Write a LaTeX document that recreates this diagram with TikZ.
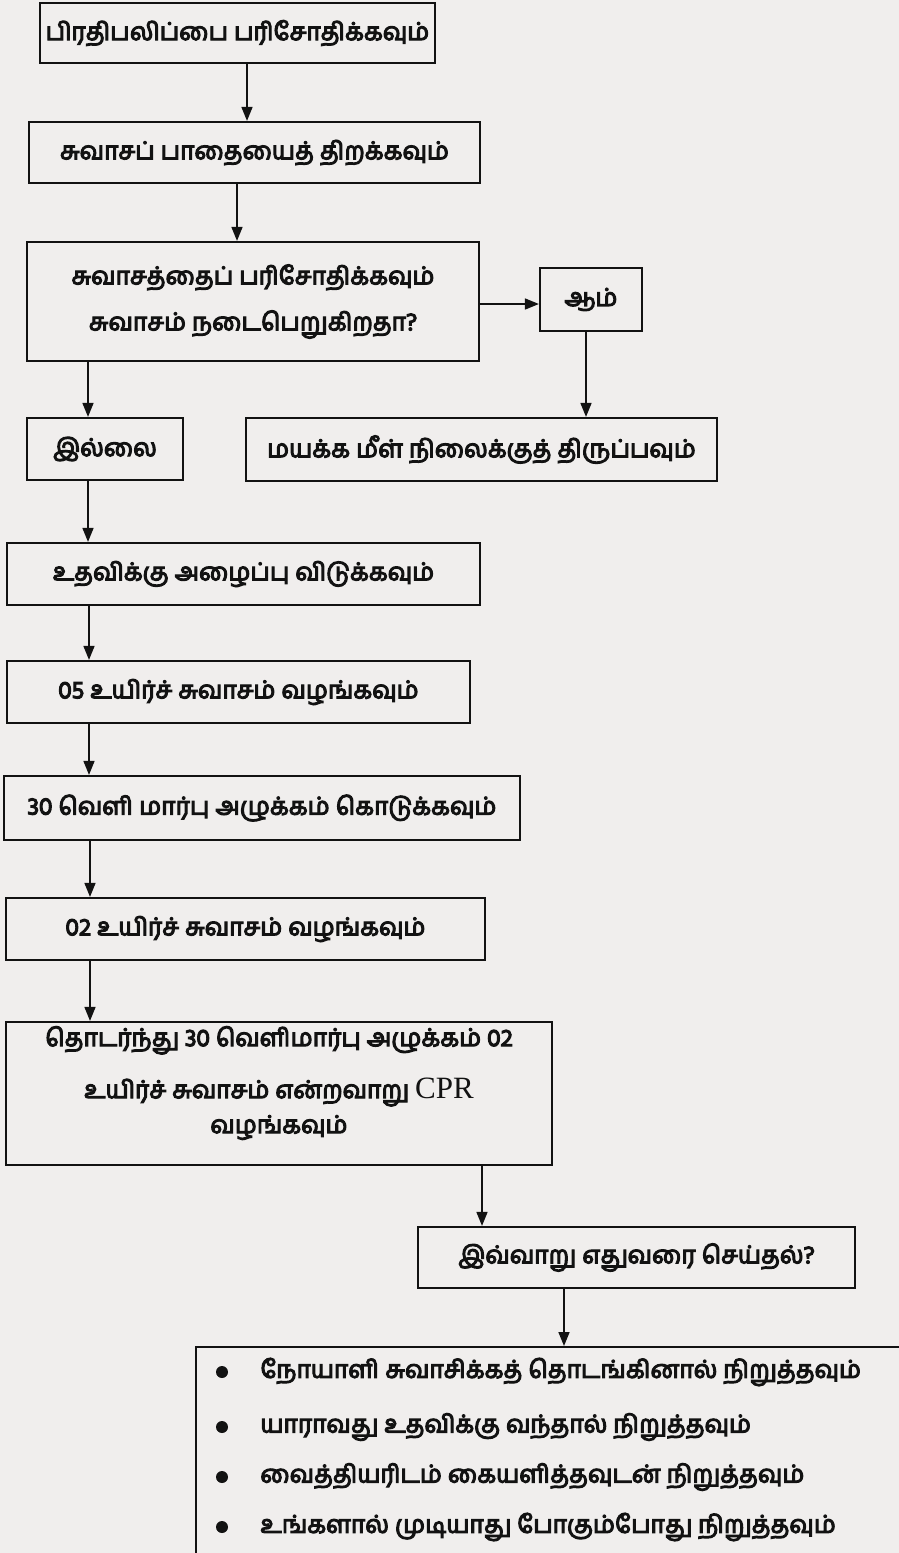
\documentclass[tikz,border=0pt]{standalone}
\usepackage{fontspec}
\setmainfont{Liberation Serif}
\newfontfamily\tamil[Script=Tamil, FakeBold=4.5]{Hind Madurai}
\usetikzlibrary{arrows.meta}
\definecolor{paper}{RGB}{240,238,237}
\definecolor{ink}{RGB}{18,18,18}
\begin{document}
\begin{tikzpicture}[x=0.5pt,y=-0.5pt,
  tfont/.style={font=\tamil\fontsize{12.3}{16}\selectfont},
  box/.style={draw=ink, line width=1.1pt, inner sep=0pt, text=ink, align=center, tfont},
  wh/.style 2 args={minimum width=#1*0.5pt, minimum height=#2*0.5pt},
  txt/.style={inner sep=0pt, text=ink, tfont},
  dot/.style={circle, fill=ink, inner sep=0pt, minimum size=6pt},
  arr/.style={draw=ink, line width=0.8pt, -{Triangle[length=7pt,width=5.5pt]}}]
\clip (0,0) rectangle (899,1553);
\fill[paper] (0,0) rectangle (899,1553);

\node[box, wh={395}{60}] (b1) at (237.5,33) {பிரதிபலிப்பை பரிசோதிக்கவும்};
\node[box, wh={451}{61}] (b2) at (254.5,152.5) {சுவாசப் பாதையைத் திறக்கவும்};
\node[box, wh={452}{119}] (b3) at (253,301.5) {சுவாசத்தைப் பரிசோதிக்கவும்\\[7pt]சுவாசம் நடைபெறுகிறதா?};
\node[box, wh={102}{63}] (yes) at (591,299.5) {ஆம்};
\node[box, wh={471}{63}] (rec) at (481.5,449.5) {மயக்க மீள் நிலைக்குத் திருப்பவும்};
\node[box, wh={156}{62}] (no) at (105,449) {இல்லை};
\node[box, wh={473}{62}] (help) at (243.5,574) {உதவிக்கு அழைப்பு விடுக்கவும்};
\node[box, wh={463}{62}] (b05) at (238.5,692) {05 உயிர்ச் சுவாசம் வழங்கவும்};
\node[box, wh={516}{64}] (b30) at (262,808) {30 வெளி மார்பு அழுக்கம் கொடுக்கவும்};
\node[box, wh={479}{62}] (b02) at (245.5,929) {02 உயிர்ச் சுவாசம் வழங்கவும்};
\node[box, wh={546}{143}] (cont) at (279,1093.5) {};
\node[txt, align=center] (conttext) at (279,1083) {தொடர்ந்து 30 வெளிமார்பு அழுக்கம் 02\\[10pt]உயிர்ச் சுவாசம் என்றவாறு {\rmfamily\fontsize{15.5}{16}\selectfont CPR}\\[1.5pt]வழங்கவும்};
\node[box, wh={437}{61}] (q) at (636.5,1257.5) {இவ்வாறு எதுவரை செய்தல்?};
\node[draw=ink, line width=1.1pt, inner sep=0pt, anchor=north west, wh={760}{260}] (last) at (195,1346) {};

\node[dot] (d1) at (222,1372) {};
\node[dot] (d2) at (222,1427) {};
\node[dot] (d3) at (222,1477) {};
\node[dot] (d4) at (222,1527) {};
\node[txt, anchor=west] (t1) at (260,1372) {நோயாளி சுவாசிக்கத் தொடங்கினால் நிறுத்தவும்};
\node[txt, anchor=west] (t2) at (260,1427) {யாராவது உதவிக்கு வந்தால் நிறுத்தவும்};
\node[txt, anchor=west] (t3) at (260,1477) {வைத்தியரிடம் கையளித்தவுடன் நிறுத்தவும்};
\node[txt, anchor=west] (t4) at (260,1527) {உங்களால் முடியாது போகும்போது நிறுத்தவும்};

\draw[arr] (b1.south -| 247,0) -- (b2.north -| 247,0);
\draw[arr] (b2.south -| 237,0) -- (b3.north -| 237,0);
\draw[arr] (b3.east |- 0,304) -- (yes.west |- 0,304);
\draw[arr] (yes.south -| 586,0) -- (rec.north -| 586,0);
\draw[arr] (b3.south -| 88,0) -- (no.north -| 88,0);
\draw[arr] (no.south -| 88,0) -- (help.north -| 88,0);
\draw[arr] (help.south -| 89,0) -- (b05.north -| 89,0);
\draw[arr] (b05.south -| 89,0) -- (b30.north -| 89,0);
\draw[arr] (b30.south -| 90,0) -- (b02.north -| 90,0);
\draw[arr] (b02.south -| 90,0) -- (cont.north -| 90,0);
\draw[arr] (cont.south -| 482,0) -- (q.north -| 482,0);
\draw[arr] (q.south -| 564,0) -- (last.north -| 564,0);
\end{tikzpicture}
\end{document}
